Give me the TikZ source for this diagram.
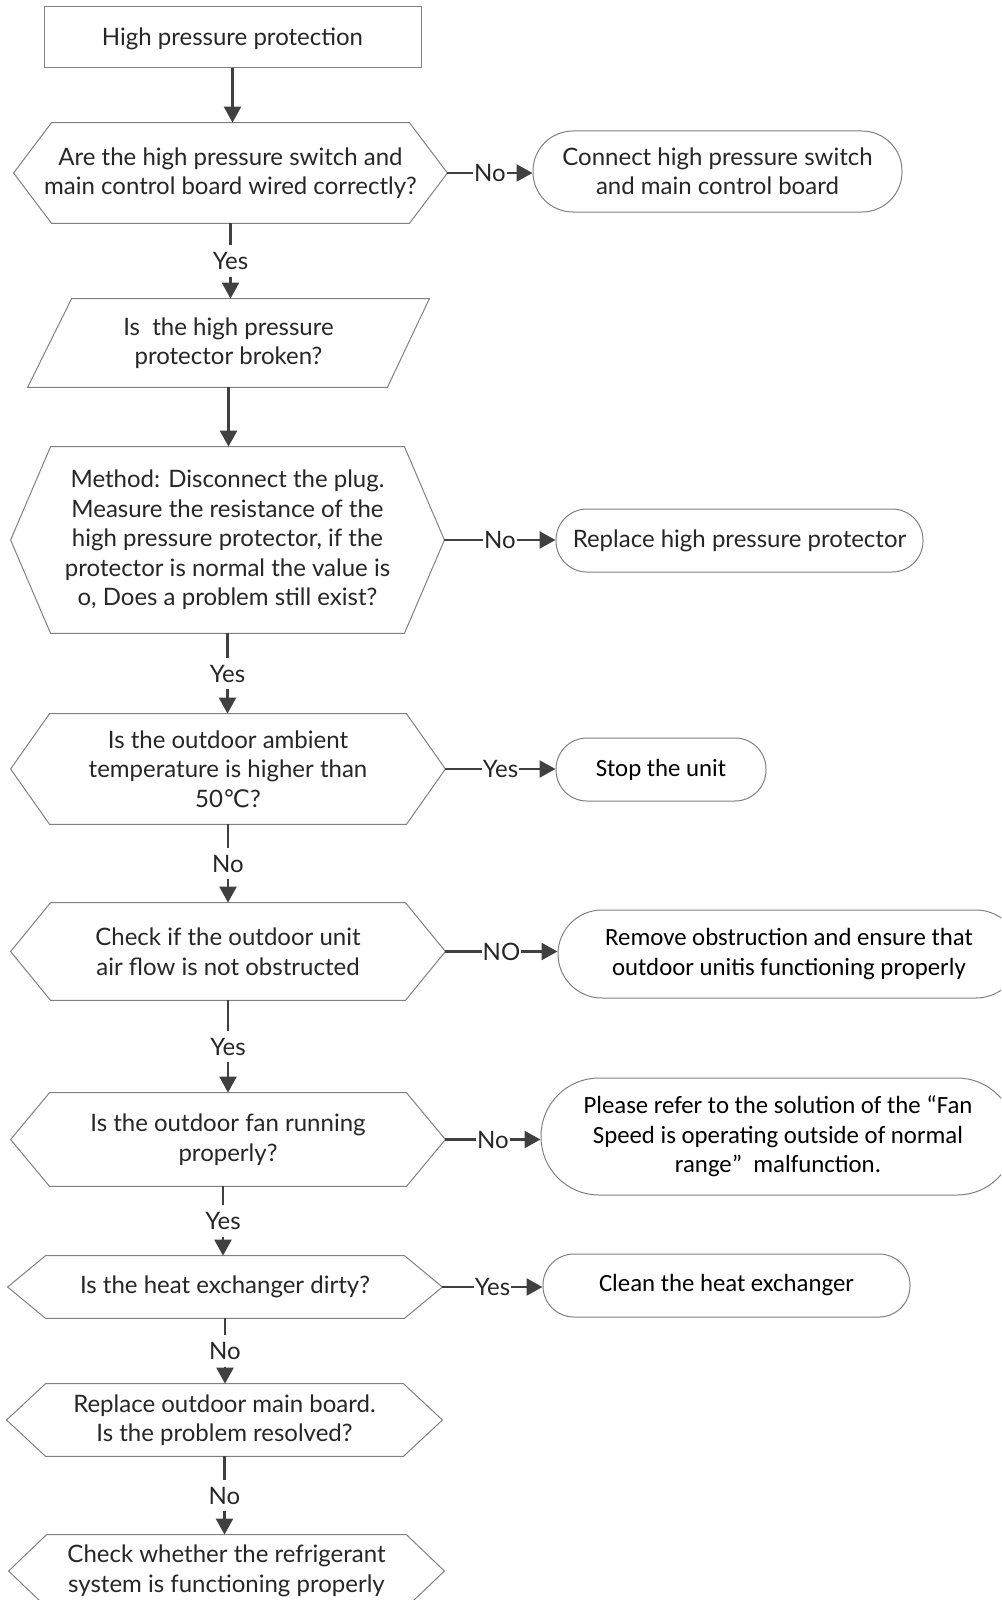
\documentclass[tikz,border=0pt]{standalone}
\usepackage{fontspec}
\setmainfont{Lato}
\newfontfamily\calib{Carlito}
\newfontfamily\dejavu{DejaVu Sans}
\usetikzlibrary{arrows.meta,calc}

% hexagon outline round a named node: #1 node, #2 indent
\newcommand\hexline[2]{\draw[outline] (#1.west) -- ($(#1.north west)+(#2,0)$) -- ($(#1.north east)-(#2,0)$) -- (#1.east) -- ($(#1.south east)-(#2,0)$) -- ($(#1.south west)+(#2,0)$) -- cycle;}

\begin{document}
\begin{tikzpicture}[x=0.5pt,y=-0.5pt,
  outline/.style={draw=black!50, line width=0.5pt},
  box/.style={inner sep=0pt, align=center, text=black!85, font=\fontsize{12}{14.75}\selectfont},
  endbox/.style={box, outline},
  calibox/.style={endbox, font=\calib\fontsize{12.4}{14.75}\selectfont, text=black},
  conn/.style={draw=black!75, line width=1.2pt, -{Triangle[length=8pt,width=8.5pt]}},
  lbl/.style={fill=white, inner xsep=1pt, inner ysep=3.5pt, text=black!85, font=\fontsize{12}{14}\selectfont},
  sidelbl/.style={lbl, inner xsep=0.5pt, inner ysep=1pt}]
\clip (0,0) rectangle (1001,1600);

 %start
 \node[box, outline, minimum width=188.5pt, minimum height=30.5pt, text depth=1pt] (start) at (232.5,37.5) {High pressure protection};

 %wiring
 \node[box, minimum width=216.5pt, minimum height=50pt] (wired) at (230.5,173) {Are the high pressure switch and\\main control board wired correctly?};
 \hexline{wired}{38}
 \node[endbox, rounded corners=20pt, minimum width=184.5pt, minimum height=40.5pt] (connect) at (717.5,171.5) {Connect high pressure switch\\and main control board};

 %protector
 \node[box, minimum width=200.5pt, minimum height=44pt] (broken) at (228.5,343) {Is\ \ the high pressure\\protector broken?};
 \draw[outline] ($(broken.north west)+(44,0)$) -- (broken.north east) -- ($(broken.south east)-(42,0)$) -- (broken.south west) -- cycle;

 %method
 \node[box, minimum width=216.5pt, minimum height=93pt] (method) at (227.5,540) {Method: Disconnect the plug.\\Measure the resistance of the\\high pressure protector, if the\\protector is normal the value is\\o, Does a problem still exist?};
 \hexline{method}{40}
 \node[endbox, rounded corners=15.5pt, minimum width=183.5pt, minimum height=31.5pt] (replace) at (739.5,540.5) {Replace high pressure protector};

 %ambient
 \node[box, minimum width=217pt, minimum height=55pt] (ambient) at (228,769) {Is the outdoor ambient\\temperature is higher than\\50{\dejavu ℃}?};
 \hexline{ambient}{39}
 \node[calibox, rounded corners=15.5pt, minimum width=105pt, minimum height=31.5pt] (stop) at (661,769.5) {Stop the unit};

 %air flow
 \node[box, minimum width=217pt, minimum height=48.5pt] (airflow) at (228,951.5) {Check if the outdoor unit\\air flow is not obstructed};
 \hexline{airflow}{40}
 \node[calibox, rounded corners=22pt, minimum width=231pt, minimum height=44pt] (remove) at (789,954) {Remove obstruction and ensure that\\outdoor unitis functioning properly};

 %fan
 \node[box, minimum width=217pt, minimum height=46.5pt] (fan) at (228,1139.5) {Is the outdoor fan running\\properly?};
 \hexline{fan}{39}
 \node[calibox, rounded corners=29pt, minimum width=237pt, minimum height=58.5pt] (refer) at (778,1136.5) {Please refer to the solution of the “Fan\\Speed is operating outside of normal\\range”\ \ malfunction.};

 %heat exchanger
 \node[box, minimum width=217pt, minimum height=31pt] (dirty) at (225,1287) {Is the heat exchanger dirty?};
 \hexline{dirty}{38}
 \node[calibox, rounded corners=15.5pt, minimum width=183.5pt, minimum height=31.5pt] (clean) at (726.5,1285.5) {Clean the heat exchanger};

 %main board
 \node[box, minimum width=217.5pt, minimum height=36pt] (board) at (224.5,1420) {Replace outdoor main board.\\Is the problem resolved?};
 \hexline{board}{39}

 %refrigerant
 \node[box, minimum width=217.5pt, minimum height=36pt] (refrig) at (226.5,1571) {Check whether the refrigerant\\system is functioning properly};
 \hexline{refrig}{38}

 %down the column
 \draw[conn] (start.south) -- (start.south |- wired.north);
 \draw[conn] (wired.south) -- node[lbl] {Yes} (wired.south |- broken.north);
 \draw[conn] (broken.south) -- (broken.south |- method.north);
 \draw[conn] (method.south) -- node[lbl] {Yes} (method.south |- ambient.north);
 \draw[conn] (ambient.south) -- node[lbl] {No} (ambient.south |- airflow.north);
 \draw[conn] (airflow.south) -- node[lbl] {Yes} (airflow.south |- fan.north);
 \draw[conn] ([xshift=-2.5pt]fan.south) -- node[lbl] {Yes} ([xshift=-2.5pt]fan.south |- dirty.north);
 \draw[conn] (dirty.south) -- node[lbl] {No} (dirty.south |- board.north);
 \draw[conn] (board.south) -- node[lbl] {No} (board.south |- refrig.north);

 %to the right
 \draw[conn] (wired.east) -- node[sidelbl] {No} (wired.east -| connect.west);
 \draw[conn] (method.east) -- node[sidelbl] {No} (method.east -| replace.west);
 \draw[conn] (ambient.east) -- node[sidelbl] {Yes} (ambient.east -| stop.west);
 \draw[conn] (airflow.east) -- node[sidelbl] {NO} (airflow.east -| remove.west);
 \draw[conn] (fan.east) -- node[sidelbl] {No} (fan.east -| refer.west);
 \draw[conn] (dirty.east) -- node[sidelbl] {Yes} (dirty.east -| clean.west);
\end{tikzpicture}
\end{document}
